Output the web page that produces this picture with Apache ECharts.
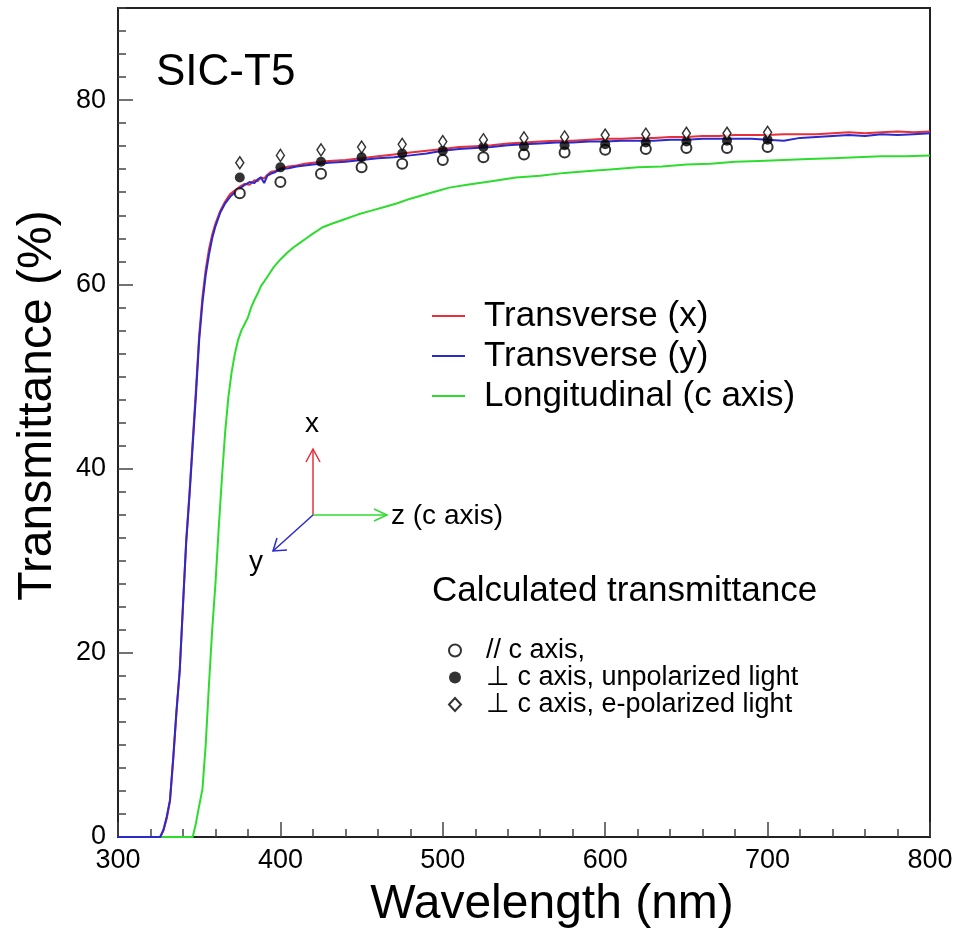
<!DOCTYPE html>
<html>
<head>
<meta charset="utf-8">
<script src="https://cdn.jsdelivr.net/npm/echarts@6/dist/echarts.min.js"></script>
<style>
html, body { margin: 0; padding: 0; background: #fff; }
#chart1 { width: 956px; height: 937px; }
</style>
</head>
<body>
<div id="chart1"></div>
<script>
var wlTrans = [300, 326, 328, 330, 332, 334, 336, 338, 340, 342, 344, 346, 348, 350, 352, 354, 356, 358, 360, 363, 366, 369, 372, 375, 378, 381, 384, 386, 388, 390, 392, 394, 397, 400, 405, 410, 415, 420, 425, 430, 440, 450, 460, 470, 480, 490, 500, 510, 520, 530, 540, 550, 560, 570, 580, 590, 600, 610, 620, 630, 640, 650, 660, 670, 680, 690, 700, 710, 720, 730, 740, 750, 760, 770, 780, 790, 800];
var transX = [0, 0, 0.7, 2.0, 3.9, 8.4, 13.5, 18.1, 25.0, 32.2, 37.3, 43.0, 48.6, 54.5, 58.6, 61.6, 63.8, 65.4, 66.6, 68.0, 69.0, 69.8, 70.2, 70.6, 70.9, 70.8, 71.3, 71.2, 71.6, 71.5, 71.9, 72.2, 72.3, 72.6, 72.8, 72.9, 73.1, 73.2, 73.3, 73.4, 73.5, 73.7, 73.9, 74.1, 74.3, 74.5, 74.7, 74.9, 75.0, 75.1, 75.3, 75.4, 75.5, 75.6, 75.6, 75.7, 75.8, 75.8, 75.9, 75.9, 76.0, 76.0, 76.1, 76.1, 76.2, 76.2, 76.2, 76.3, 76.3, 76.3, 76.4, 76.5, 76.4, 76.5, 76.6, 76.5, 76.6];
var transY = [0, 0, 0.8, 2.2, 4.0, 8.6, 13.7, 18.0, 25.2, 32.0, 37.0, 42.5, 48.0, 54.0, 58.0, 61.0, 63.2, 65.0, 66.3, 67.8, 68.8, 69.5, 70.0, 70.4, 70.8, 71.1, 71.0, 71.4, 71.6, 71.0, 71.8, 72.0, 72.2, 72.5, 72.6, 72.8, 72.9, 73.0, 73.1, 73.2, 73.3, 73.5, 73.7, 73.8, 74.0, 74.2, 74.5, 74.7, 74.8, 74.9, 75.1, 75.2, 75.3, 75.4, 75.4, 75.5, 75.5, 75.6, 75.6, 75.6, 75.7, 75.7, 75.8, 75.8, 75.8, 75.8, 75.7, 75.6, 75.9, 76.0, 76.1, 76.2, 76.1, 76.3, 76.2, 76.3, 76.4];

var wlLong = [300, 346, 348, 350, 352, 354, 356, 358, 360, 362, 364, 366, 368, 370, 372, 374, 376, 378, 380, 382, 384, 386, 388, 390, 393, 396, 400, 404, 408, 412, 416, 420, 426, 432, 440, 448, 456, 464, 472, 480, 488, 496, 504, 515, 530, 545, 560, 575, 590, 605, 620, 635, 650, 665, 680, 695, 710, 725, 740, 755, 770, 785, 800];
var longC = [0, 0, 1.5, 3.4, 5.2, 10.0, 16.5, 22.5, 27.5, 33.5, 39.0, 44.0, 47.8, 50.5, 52.5, 54.0, 55.0, 55.7, 56.4, 57.5, 58.3, 59.0, 59.8, 60.3, 61.1, 61.9, 62.7, 63.4, 64.0, 64.5, 65.0, 65.5, 66.2, 66.6, 67.1, 67.6, 68.0, 68.4, 68.8, 69.3, 69.7, 70.1, 70.5, 70.8, 71.2, 71.6, 71.8, 72.1, 72.3, 72.5, 72.7, 72.8, 73.0, 73.1, 73.3, 73.4, 73.5, 73.6, 73.7, 73.8, 73.9, 73.9, 74.0];

// calculated transmittance
var wlCalc = [375, 400, 425, 450, 475, 500, 525, 550, 575, 600, 625, 650, 675, 700];
var calcPara = [69.9, 71.1, 72.0, 72.7, 73.1, 73.5, 73.8, 74.1, 74.3, 74.6, 74.7, 74.8, 74.8, 74.9];
var calcPerpUnpol = [71.6, 72.7, 73.3, 73.8, 74.2, 74.5, 74.9, 75.0, 75.1, 75.2, 75.4, 75.5, 75.6, 75.7];
var calcPerpE = [73.2, 74.0, 74.6, 74.9, 75.2, 75.5, 75.7, 75.9, 76.0, 76.2, 76.3, 76.4, 76.4, 76.5];

var lineNames = ['Transverse (x)', 'Transverse (y)', 'Longitudinal (c axis)'];
var calcNames = ['// c axis,', '\u22a5 c axis, unpolarized light', '\u22a5 c axis, e-polarized light'];

function pairs(xs, ys) {
    var out = [];
    for (var i = 0; i < xs.length; i++) out.push([xs[i], ys[i]]);
    return out;
}

var FONT = '"Liberation Sans", Arial, Helvetica, sans-serif';
var chart = echarts.init(document.getElementById('chart1'));

var option = {
    backgroundColor: '#fff',
    animation: false,
    textStyle: { fontFamily: FONT, color: '#000' },
    title: [
        { text: 'SIC-T5', left: 151, top: 46, textStyle: { fontSize: 44, fontWeight: 'normal', color: '#000', fontFamily: FONT } },
        { text: 'Calculated transmittance', left: 427, top: 569, textStyle: { fontSize: 35, fontWeight: 'normal', color: '#000', fontFamily: FONT } }
    ],
    grid: { left: 118, right: 26, top: 8, bottom: 100, show: true, borderColor: '#222', borderWidth: 2 },
    legend: [
        {
            data: lineNames.map(function (n) { return { name: n, icon: 'rect' }; }),
            orient: 'vertical',
            left: 427, top: 291,
            itemWidth: 33, itemHeight: 2, itemGap: 0,
            textStyle: { fontSize: 35, lineHeight: 40, color: '#000', fontFamily: FONT, padding: [0, 0, 0, 14] }
        },
        {
            data: [
                { name: calcNames[0], icon: 'circle' },
                { name: calcNames[1], icon: 'circle' },
                { name: calcNames[2], icon: 'diamond' }
            ],
            orient: 'vertical',
            left: 443, top: 632,
            itemWidth: 12, itemHeight: 13, itemGap: 0,
            textStyle: { fontSize: 27, lineHeight: 25, color: '#000', fontFamily: FONT, padding: [0, 0, 0, 20] }
        }
    ],
    xAxis: {
        type: 'value', min: 300, max: 800, interval: 100,
        name: 'Wavelength (nm)', nameLocation: 'middle', nameGap: 44,
        nameTextStyle: { fontSize: 48, color: '#000', fontFamily: FONT, padding: [0, 0, 0, 56] },
        axisLine: { lineStyle: { color: '#222', width: 2 } },
        axisTick: { inside: true, length: 15, lineStyle: { color: '#444', width: 1.5 } },
        minorTick: { show: true, splitNumber: 5, length: 8, lineStyle: { color: '#444', width: 1.5 } },
        splitLine: { show: false },
        axisLabel: { fontSize: 27, color: '#000', margin: 10, fontFamily: FONT }
    },
    yAxis: [
        {
            type: 'value', min: 0, max: 90, interval: 20, position: 'left',
            name: 'Transmittance (%)', nameLocation: 'middle', nameGap: 56,
            nameTextStyle: { fontSize: 48, color: '#000', fontFamily: FONT, padding: [0, 0, 0, 34] },
            axisLine: { show: true, lineStyle: { color: '#222', width: 2 } },
            axisTick: { inside: true, length: 15, lineStyle: { color: '#444', width: 1.5 } },
            splitLine: { show: false },
            axisLabel: { fontSize: 27, color: '#000', margin: 12, showMaxLabel: false, fontFamily: FONT }
        },
        {
            type: 'value', min: 0, max: 90, interval: 2.5, position: 'left',
            axisLine: { show: false },
            axisTick: { inside: true, length: 8, lineStyle: { color: '#444', width: 1.5 } },
            axisLabel: { show: false },
            splitLine: { show: false }
        }
    ],
    series: [
        {
            name: lineNames[0], type: 'line', symbol: 'none', z: 3,
            lineStyle: { color: '#e8303a', width: 2 }, itemStyle: { color: '#e8303a' },
            data: pairs(wlTrans, transX)
        },
        {
            name: lineNames[1], type: 'line', symbol: 'none', z: 4,
            lineStyle: { color: '#2b2bcc', width: 2 }, itemStyle: { color: '#2b2bcc' },
            data: pairs(wlTrans, transY)
        },
        {
            name: lineNames[2], type: 'line', symbol: 'none', z: 2,
            lineStyle: { color: '#2edc2e', width: 2 }, itemStyle: { color: '#2edc2e' },
            data: pairs(wlLong, longC)
        },
        {
            name: calcNames[0], type: 'scatter', symbol: 'circle', symbolSize: 10, z: 6,
            itemStyle: { color: '#fff', borderColor: '#000', borderWidth: 2 },
            data: pairs(wlCalc, calcPara)
        },
        {
            name: calcNames[1], type: 'scatter', symbol: 'circle', symbolSize: 10, z: 6,
            itemStyle: { color: '#000', borderColor: '#000', borderWidth: 0 },
            data: pairs(wlCalc, calcPerpUnpol)
        },
        {
            name: calcNames[2], type: 'scatter', symbol: 'diamond', symbolSize: [8, 12], z: 6,
            itemStyle: { color: '#fff', borderColor: '#000', borderWidth: 1.5 },
            data: pairs(wlCalc, calcPerpE)
        }
    ],
    // orientation sketch (x, y, z axes)
    graphic: [
        { type: 'line', shape: { x1: 313, y1: 515, x2: 313, y2: 449 }, style: { stroke: '#e8303a', lineWidth: 1.5 } },
        { type: 'polyline', shape: { points: [[306, 462], [313, 449], [320, 462]] }, style: { stroke: '#e8303a', lineWidth: 1.5, fill: null } },
        { type: 'line', shape: { x1: 313, y1: 515, x2: 387, y2: 515 }, style: { stroke: '#2edc2e', lineWidth: 1.5 } },
        { type: 'polyline', shape: { points: [[374, 509], [387, 515], [374, 521]] }, style: { stroke: '#2edc2e', lineWidth: 1.5, fill: null } },
        { type: 'line', shape: { x1: 313, y1: 515, x2: 273, y2: 551 }, style: { stroke: '#2b2bcc', lineWidth: 1.5 } },
        { type: 'polyline', shape: { points: [[277, 538], [273, 551], [287, 550]] }, style: { stroke: '#2b2bcc', lineWidth: 1.5, fill: null } },
        { type: 'text', x: 312, y: 424, style: { text: 'x', fontSize: 28, fontFamily: FONT, fill: '#000', align: 'center', verticalAlign: 'middle' } },
        { type: 'text', x: 256, y: 562, style: { text: 'y', fontSize: 28, fontFamily: FONT, fill: '#000', align: 'center', verticalAlign: 'middle' } },
        { type: 'text', x: 391, y: 516, style: { text: 'z (c axis)', fontSize: 28, fontFamily: FONT, fill: '#000', align: 'left', verticalAlign: 'middle' } }
    ]
};

chart.setOption(option);
</script>
</body>
</html>
